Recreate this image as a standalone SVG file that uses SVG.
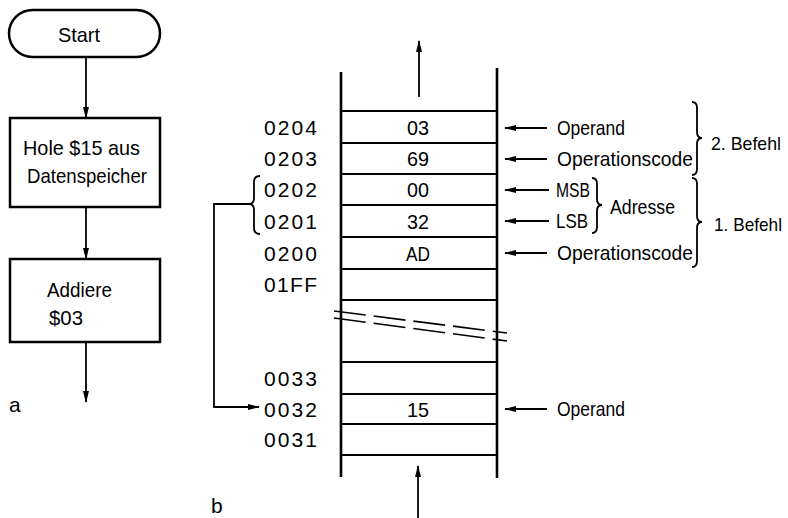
<svg xmlns="http://www.w3.org/2000/svg" width="788" height="518" viewBox="0 0 788 518">
<defs>
<style>
text{font-family:"Liberation Sans",Arial,sans-serif;font-size:21px;fill:#000}
.c{text-anchor:middle}
.sm{font-size:19px}
.box{fill:#fff;stroke:#000;stroke-width:2.5}
.ln{fill:none;stroke:#000;stroke-width:2}
.wall{fill:none;stroke:#000;stroke-width:2.6}
.br{fill:none;stroke:#000;stroke-width:1.8}
.cn{fill:none;stroke:#000;stroke-width:1.8}
.dash{fill:none;stroke:#000;stroke-width:1.6;stroke-dasharray:32 8}
</style>
<marker id="ah" markerWidth="12" markerHeight="8" refX="11" refY="4" orient="auto" markerUnits="userSpaceOnUse">
<path d="M0,1 L12,4 L0,7 Z" fill="#000"/>
</marker>
</defs>
<rect width="788" height="518" fill="#fff"/>

<!-- Flowchart (a) -->
<g id="start"><rect class="box" x="9" y="10" width="151" height="47" rx="23.5"/><text x="58" y="42" textLength="42" lengthAdjust="spacingAndGlyphs">Start</text></g>
<g id="hole"><rect class="box" x="10" y="118" width="150" height="89"/><text x="23" y="155" textLength="117" lengthAdjust="spacingAndGlyphs">Hole $15 aus</text><text x="27" y="183" textLength="120" lengthAdjust="spacingAndGlyphs">Datenspeicher</text></g>
<g id="addiere"><rect class="box" x="10" y="259" width="150" height="83"/><text x="47" y="297" textLength="65" lengthAdjust="spacingAndGlyphs">Addiere</text><text x="49" y="325" textLength="34" lengthAdjust="spacingAndGlyphs">$03</text></g>
<text id="label-a" x="9" y="412">a</text>

<!-- Memory column (b) -->
<g id="memory">
<line class="wall" x1="341" y1="72" x2="341" y2="477"/>
<line class="wall" x1="497" y1="68" x2="497" y2="478"/>
<g class="ln">
<line x1="341" y1="111" x2="497" y2="111"/>
<line x1="341" y1="143" x2="497" y2="143"/>
<line x1="341" y1="174" x2="497" y2="174"/>
<line x1="341" y1="205" x2="497" y2="205"/>
<line x1="341" y1="237" x2="497" y2="237"/>
<line x1="341" y1="269" x2="497" y2="269"/>
<line x1="341" y1="300" x2="497" y2="300"/>
<line x1="341" y1="362" x2="497" y2="362"/>
<line x1="341" y1="394" x2="497" y2="394"/>
<line x1="341" y1="424" x2="497" y2="424"/>
<line x1="341" y1="455" x2="497" y2="455"/>
</g>
<line class="dash" x1="334" y1="311" x2="507" y2="333"/>
<line class="dash" x1="334" y1="318" x2="507" y2="341"/>
<text class="c" x="418" y="135" textLength="22" lengthAdjust="spacingAndGlyphs">03</text>
<text class="c" x="418" y="166" textLength="22" lengthAdjust="spacingAndGlyphs">69</text>
<text class="c" x="418" y="197" textLength="22" lengthAdjust="spacingAndGlyphs">00</text>
<text class="c" x="418" y="229" textLength="22" lengthAdjust="spacingAndGlyphs">32</text>
<text class="c" x="418" y="261" textLength="24" lengthAdjust="spacingAndGlyphs">AD</text>
<text class="c" x="418" y="417" textLength="22" lengthAdjust="spacingAndGlyphs">15</text>
</g>

<g id="addresses">
<text x="264" y="135" textLength="53" lengthAdjust="spacing">0204</text>
<text x="264" y="166" textLength="53" lengthAdjust="spacing">0203</text>
<text x="264" y="197" textLength="53" lengthAdjust="spacing">0202</text>
<text x="264" y="229" textLength="53" lengthAdjust="spacing">0201</text>
<text x="264" y="261" textLength="53" lengthAdjust="spacing">0200</text>
<text x="264" y="292" textLength="53" lengthAdjust="spacing">01FF</text>
<text x="264" y="386" textLength="53" lengthAdjust="spacing">0033</text>
<text x="264" y="417" textLength="53" lengthAdjust="spacing">0032</text>
<text x="264" y="447" textLength="53" lengthAdjust="spacing">0031</text>
</g>

<g id="braces">
<path class="br" d="M260,176 Q254,176 254,182 L254,198 Q254,204 249,204 Q254,204 254,210 L254,228 Q254,234 260,234"/>
<path class="br" d="M692,102 Q697,102 697,108 L697,132 Q697,138 702,138 Q697,138 697,144 L697,169 Q697,175 692,175"/>
<path class="br" d="M692,178 Q697,178 697,184 L697,216 Q697,222 702,222 Q697,222 697,228 L697,261 Q697,267 692,267"/>
<path class="br" d="M592,178 Q597,178 597,184 L597,199 Q597,205 602,205 Q597,205 597,211 L597,227 Q597,233 592,233"/>
</g>

<g id="annotations">
<text x="557" y="135" textLength="68" lengthAdjust="spacingAndGlyphs">Operand</text>
<text x="557" y="166" textLength="136" lengthAdjust="spacingAndGlyphs">Operationscode</text>
<text x="556" y="197" textLength="34" lengthAdjust="spacingAndGlyphs">MSB</text>
<text x="556" y="228" textLength="32" lengthAdjust="spacingAndGlyphs">LSB</text>
<text x="557" y="260" textLength="136" lengthAdjust="spacingAndGlyphs">Operationscode</text>
<text x="557" y="416" textLength="68" lengthAdjust="spacingAndGlyphs">Operand</text>
<text x="610" y="214" textLength="65" lengthAdjust="spacingAndGlyphs">Adresse</text>
<text class="sm" x="711" y="150" textLength="70" lengthAdjust="spacingAndGlyphs">2. Befehl</text>
<text class="sm" x="714" y="231" textLength="68" lengthAdjust="spacingAndGlyphs">1. Befehl</text>
</g>
<text id="label-b" x="211" y="513">b</text>

<g id="connectors">
<line class="cn" x1="86" y1="57" x2="86" y2="118" marker-end="url(#ah)"/>
<line class="cn" x1="86" y1="207" x2="86" y2="259" marker-end="url(#ah)"/>
<line class="cn" x1="86" y1="342" x2="86" y2="402" marker-end="url(#ah)"/>
<line class="cn" x1="419" y1="97" x2="419" y2="41" marker-end="url(#ah)"/>
<line class="cn" x1="418" y1="518" x2="418" y2="466" marker-end="url(#ah)"/>
<path class="cn" d="M249,204 H214 V407 H259" marker-end="url(#ah)"/>
<line class="cn" x1="547" y1="128" x2="505" y2="128" marker-end="url(#ah)"/>
<line class="cn" x1="547" y1="159" x2="505" y2="159" marker-end="url(#ah)"/>
<line class="cn" x1="549" y1="190" x2="505" y2="190" marker-end="url(#ah)"/>
<line class="cn" x1="549" y1="221" x2="505" y2="221" marker-end="url(#ah)"/>
<line class="cn" x1="547" y1="253" x2="505" y2="253" marker-end="url(#ah)"/>
<line class="cn" x1="547" y1="409" x2="505" y2="409" marker-end="url(#ah)"/>
</g>
</svg>
